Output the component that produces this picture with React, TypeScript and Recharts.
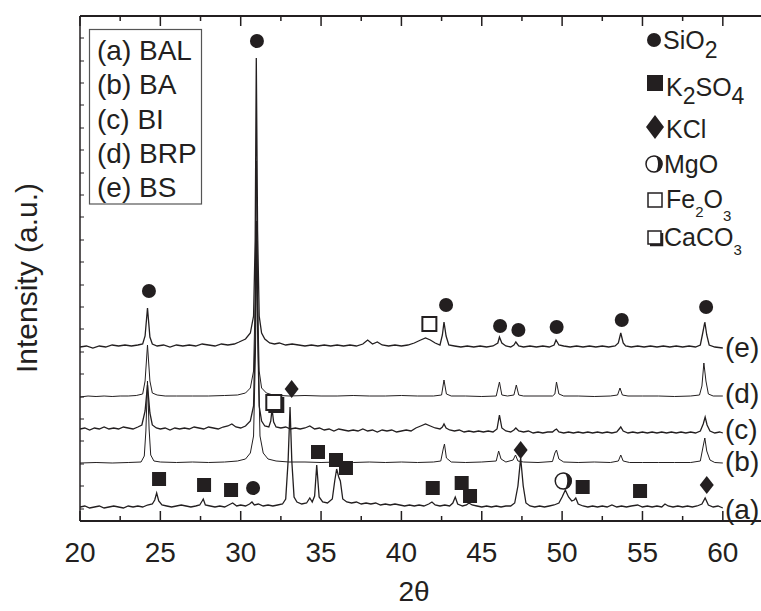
import React from "react";
import { ComposedChart, Line, Scatter, XAxis, YAxis } from "recharts";

// XRD patterns, intensity (arbitrary units, stacked offsets)
type Pt = [number, number];

const traceA: Pt[] = [
  [20, 14], [20.3, 15], [20.6, 13], [20.9, 14], [21.2, 15], [21.5, 13], [21.8, 14], [22.1, 15], [22.4, 14], [22.7, 13],
  [23, 15], [23.3, 14], [23.6, 15], [23.9, 14], [24.2, 16], [24.5, 17], [24.65, 21], [24.77, 28], [24.9, 20], [25.1, 16],
  [25.4, 15], [25.7, 14], [26, 15], [26.3, 16], [26.6, 15], [26.9, 14], [27.2, 15], [27.45, 16], [27.6, 20], [27.67, 22],
  [27.8, 16], [28.1, 15], [28.4, 14], [28.7, 15], [29, 14], [29.25, 16], [29.5, 18], [29.75, 15], [30, 16], [30.3, 15],
  [30.55, 17], [30.7, 19], [30.85, 16], [31.1, 17], [31.4, 15], [31.7, 16], [32, 15], [32.3, 16], [32.6, 17], [32.8, 22],
  [32.95, 60], [33.07, 114], [33.18, 60], [33.32, 24], [33.5, 19], [33.8, 17], [34.1, 18], [34.3, 23], [34.45, 19], [34.6, 25],
  [34.73, 56], [34.88, 24], [35.1, 19], [35.4, 18], [35.7, 22], [35.85, 40], [35.97, 52], [36.1, 44], [36.2, 40], [36.35, 22],
  [36.6, 19], [36.9, 18], [37.2, 19], [37.5, 17], [37.8, 18], [38.1, 17], [38.4, 18], [38.7, 16], [39, 17], [39.3, 16],
  [39.6, 17], [39.9, 16], [40.2, 15], [40.5, 16], [40.8, 15], [41.1, 16], [41.4, 15], [41.7, 17], [41.9, 19], [42.1, 16],
  [42.4, 15], [42.7, 16], [43, 15], [43.2, 18], [43.35, 24], [43.5, 17], [43.8, 15], [44.05, 16], [44.2, 18], [44.4, 16],
  [44.7, 15], [45, 14], [45.3, 15], [45.6, 14], [45.9, 15], [46.2, 14], [46.5, 15], [46.8, 15], [47.05, 18], [47.25, 35],
  [47.42, 63], [47.58, 35], [47.75, 18], [48, 15], [48.3, 14], [48.6, 15], [48.9, 14], [49.2, 15], [49.5, 16], [49.8, 18],
  [50.0, 24], [50.2, 31], [50.4, 24], [50.6, 20], [50.75, 21], [50.85, 23], [51.0, 17], [51.3, 15], [51.6, 14], [51.9, 15],
  [52.2, 14], [52.5, 15], [52.8, 14], [53.1, 16], [53.4, 14], [53.7, 15], [54, 14], [54.3, 15], [54.7, 16], [55, 14],
  [55.3, 15], [55.6, 14], [55.9, 15], [56.2, 14], [56.4, 17], [56.6, 15], [56.9, 14], [57.2, 15], [57.5, 14], [57.8, 15],
  [58.1, 14], [58.4, 15], [58.7, 17], [58.9, 23], [59.1, 16], [59.4, 14], [59.7, 15], [60, 13],
];

const traceB: Pt[] = [
  [20, 58], [21, 58.5], [22, 58], [23, 58.5], [23.8, 59], [24.0, 65], [24.1, 90], [24.2, 140], [24.3, 92], [24.4, 66],
  [24.6, 60], [25, 59], [26, 58.5], [27, 59], [28, 58.5], [29, 59], [29.8, 60], [30.3, 62], [30.6, 68], [30.8, 85],
  [30.92, 170], [31.0, 280], [31.08, 175], [31.2, 85], [31.4, 68], [31.7, 62], [32.2, 60], [33, 59], [34, 59], [35, 58.5],
  [36, 59], [37, 58.5], [38, 59], [39, 58.5], [40, 59], [41, 58.5], [42, 59], [42.45, 60], [42.6, 72], [42.68, 77],
  [42.8, 63], [43.1, 59], [44, 58.5], [45, 59], [45.9, 60], [46.05, 70], [46.2, 62], [46.5, 59], [46.95, 61], [47.1, 66],
  [47.25, 60], [47.6, 59], [48.5, 58.5], [49.4, 59.5], [49.55, 68], [49.65, 71], [49.8, 62], [50.1, 59], [51, 58.5], [52, 59],
  [53, 58.5], [53.5, 60], [53.65, 66], [53.8, 60], [54.2, 58.5], [55, 58.5], [56, 58.5], [57, 58.5], [58, 58.5], [58.6, 60],
  [58.78, 75], [58.88, 83], [59.0, 70], [59.2, 61], [59.5, 58.5], [60, 58],
];

const traceC: Pt[] = [
  [20, 92], [20.3, 93], [20.6, 91], [20.9, 93], [21.2, 92], [21.5, 94], [21.8, 92], [22.1, 93], [22.4, 92], [22.7, 94],
  [23, 93], [23.3, 92], [23.6, 94], [23.85, 96], [24.05, 110], [24.2, 136], [24.35, 108], [24.5, 96], [24.75, 93], [25, 92],
  [25.3, 93], [25.6, 91], [25.9, 93], [26.2, 92], [26.5, 93], [26.8, 92], [27.1, 94], [27.4, 93], [27.7, 92], [28, 94],
  [28.3, 93], [28.6, 92], [28.9, 94], [29.2, 95], [29.45, 97], [29.7, 94], [30, 93], [30.3, 95], [30.6, 100], [30.8, 115],
  [30.9, 190], [30.97, 300], [31.05, 195], [31.15, 115], [31.3, 100], [31.5, 95], [31.75, 94], [31.87, 100], [31.95, 112], [32.05, 99],
  [32.2, 94], [32.5, 93], [32.8, 94], [33.1, 92], [33.4, 93], [33.7, 92], [34, 93], [34.3, 95], [34.6, 92], [34.9, 93],
  [35.2, 91], [35.5, 92], [35.8, 90], [36.1, 92], [36.4, 91], [36.7, 90], [37, 91], [37.3, 90], [37.6, 92], [37.9, 90],
  [38.2, 91], [38.5, 89], [38.8, 91], [39.1, 90], [39.4, 91], [39.7, 89], [40, 90], [40.3, 91], [40.6, 90], [40.9, 93],
  [41.2, 95], [41.5, 97], [41.8, 95], [42.1, 93], [42.4, 92], [42.55, 94], [42.65, 97], [42.78, 93], [43, 91], [43.3, 90],
  [43.6, 91], [43.9, 89], [44.2, 90], [44.5, 89], [44.8, 90], [45.1, 89], [45.4, 90], [45.7, 89], [45.95, 92], [46.1, 106],
  [46.25, 93], [46.5, 90], [46.8, 89], [47.0, 91], [47.12, 93], [47.3, 90], [47.6, 89], [47.9, 90], [48.2, 88], [48.5, 89],
  [48.8, 88], [49.1, 89], [49.4, 89], [49.55, 91], [49.65, 92], [49.8, 89], [50.1, 88], [50.4, 89], [50.7, 88], [51, 89],
  [51.3, 88], [51.6, 89], [51.9, 88], [52.2, 89], [52.5, 88], [52.8, 89], [53.1, 88], [53.4, 89], [53.55, 92], [53.65, 94],
  [53.8, 90], [54.1, 88], [54.4, 89], [54.7, 88], [55, 89], [55.3, 88], [55.6, 89], [55.9, 88], [56.2, 89], [56.5, 88],
  [56.8, 89], [57.1, 88], [57.4, 89], [57.7, 88], [58, 89], [58.3, 88], [58.6, 90], [58.78, 97], [58.9, 104], [59.02, 96],
  [59.2, 90], [59.5, 88], [59.8, 89], [60, 88],
];

const traceD: Pt[] = [
  [20, 124], [20.5, 125], [21, 124.5], [21.5, 125], [22, 124.5], [22.5, 125], [23, 125], [23.5, 125.5], [23.9, 127], [24.05, 140],
  [24.2, 176], [24.35, 140], [24.5, 128], [24.8, 126], [25.3, 125], [26, 125], [27, 125], [28, 125], [29, 125.5], [29.8, 126],
  [30.3, 128], [30.6, 133], [30.8, 150], [30.9, 220], [30.97, 360], [31.05, 225], [31.15, 150], [31.3, 133], [31.6, 128], [32, 126],
  [33, 125], [34, 125.5], [35, 125], [36, 125], [37, 125.5], [38, 125], [39, 125], [40, 125.5], [41, 125], [42, 125],
  [42.5, 126], [42.65, 141], [42.8, 127], [43.1, 125], [44, 125], [45, 124.5], [45.9, 125], [46.1, 139], [46.25, 126], [46.6, 125],
  [47.0, 126], [47.15, 136], [47.3, 126], [47.6, 125], [48.5, 125], [49.4, 125], [49.55, 127], [49.65, 139], [49.8, 127], [50.1, 125],
  [51, 125], [52, 124.5], [53, 125], [53.45, 126], [53.6, 133], [53.75, 126], [54.1, 125], [55, 125], [56, 125], [57, 124.5],
  [58, 125], [58.55, 126], [58.7, 135], [58.82, 158], [58.95, 140], [59.1, 127], [59.4, 125], [60, 125],
];

const traceE: Pt[] = [
  [20, 174], [20.4, 175], [20.8, 173], [21.2, 175], [21.6, 174], [22, 176], [22.4, 175], [22.8, 176], [23.2, 175], [23.6, 176],
  [23.9, 177], [24.05, 185], [24.2, 213], [24.35, 184], [24.5, 177], [24.8, 175], [25.2, 176], [25.6, 174], [26, 176], [26.4, 175],
  [26.8, 176], [27.2, 175], [27.6, 177], [28, 176], [28.4, 175], [28.8, 177], [29.2, 176], [29.6, 177], [29.9, 179], [30.3, 182],
  [30.6, 188], [30.8, 205], [30.9, 280], [30.97, 463], [31.05, 290], [31.15, 205], [31.3, 188], [31.5, 182], [31.8, 178], [32.1, 177],
  [32.4, 178], [32.8, 176], [33.2, 177], [33.6, 176], [34, 175], [34.4, 176], [34.8, 175], [35.2, 176], [35.6, 175], [36, 176],
  [36.4, 175], [36.8, 176], [37.2, 175], [37.6, 177], [37.9, 181], [38.2, 177], [38.5, 179], [38.8, 176], [39.2, 175], [39.6, 176],
  [40, 175], [40.4, 176], [40.8, 178], [41.2, 181], [41.5, 183], [41.8, 181], [42.1, 178], [42.4, 176], [42.55, 186], [42.65, 199],
  [42.78, 185], [42.95, 176], [43.3, 175], [43.7, 174], [44.1, 175], [44.5, 174], [44.9, 175], [45.3, 174], [45.7, 175], [46.0, 178],
  [46.1, 184], [46.25, 178], [46.5, 175], [46.8, 174], [47.0, 176], [47.12, 179], [47.3, 175], [47.6, 174], [48, 175], [48.4, 174],
  [48.8, 175], [49.2, 174], [49.5, 176], [49.62, 181], [49.8, 176], [50.1, 175], [50.5, 174], [50.9, 175], [51.3, 174], [51.7, 175],
  [52.1, 174], [52.5, 175], [52.9, 174], [53.3, 175], [53.5, 178], [53.65, 188], [53.8, 178], [53.95, 175], [54.3, 174], [54.7, 175],
  [55.1, 174], [55.5, 175], [55.9, 174], [56.3, 175], [56.7, 174], [57.1, 175], [57.5, 174], [57.9, 175], [58.3, 174], [58.6, 176],
  [58.75, 188], [58.88, 199], [59.0, 186], [59.15, 176], [59.5, 174], [60, 173],
];

// phase markers (2θ, height)
const sio2Marks: Pt[] = [[31.01, 480], [24.29, 230], [42.78, 216], [46.14, 195], [47.28, 191], [49.66, 194], [53.71, 201], [58.96, 214], [30.77, 33]];
const k2so4Marks: Pt[] = [[24.92, 42], [27.72, 36], [29.4, 31], [34.81, 69], [35.93, 61], [36.55, 53], [41.95, 33], [43.75, 38], [44.27, 25], [51.28, 34], [54.85, 30]];
const kclMarks: Pt[] = [[33.17, 132], [47.42, 71], [59.0, 36]];
const mgoMarks: Pt[] = [[50.07, 40]];
const fe2o3Marks: Pt[] = [[41.74, 197]];
const caco3Marks: Pt[] = [[32.09, 118]];

const xTicks = [20, 22.5, 25, 27.5, 30, 32.5, 35, 37.5, 40, 42.5, 45, 47.5, 50, 52.5, 55, 57.5, 60];
const yTicks = [12, 35, 57, 80, 102, 124, 147, 169, 192, 214, 236, 259, 281, 304, 326, 348, 371, 393, 416, 438, 460, 483];
const sampleNames = ["(a) BAL", "(b) BA", "(c) BI", "(d) BRP", "(e) BS"];
const traceTags = ["(e)", "(d)", "(c)", "(b)", "(a)"];

const INK = "#231f20";
const FONT = "'Liberation Sans', Arial, Helvetica, sans-serif";

const rows = (pts: Pt[]) => pts.map(([t, v]) => ({ t, v }));

const BottomTick = (p: any) => {
  const major = p.payload.value % 5 === 0;
  return (
    <g>
      <line x1={p.x} x2={p.x} y1={p.y} y2={p.y - (major ? 10 : 5)} stroke={INK} strokeWidth={1.5} />
      {major && (
        <text x={p.x} y={p.y + 41} textAnchor="middle" fontSize={28} fontFamily={FONT} fill={INK}>
          {p.payload.value}
        </text>
      )}
    </g>
  );
};

const TopTick = (p: any) => {
  const major = p.payload.value % 5 === 0;
  return <line x1={p.x} x2={p.x} y1={p.y} y2={p.y + (major ? 10 : 5)} stroke={INK} strokeWidth={1.5} />;
};

const LeftTick = (p: any) => <line x1={p.x} x2={p.x + 4} y1={p.y} y2={p.y} stroke={INK} strokeWidth={1} />;

const DotMark = (p: any) => <circle cx={p.cx} cy={p.cy} r={7} fill={INK} />;
const SquareMark = (p: any) => <rect x={p.cx - 7} y={p.cy - 7} width={14} height={14} fill={INK} />;
const DiamondMark = (p: any) => (
  <polygon points={`${p.cx},${p.cy - 9} ${p.cx + 7},${p.cy} ${p.cx},${p.cy + 9} ${p.cx - 7},${p.cy}`} fill={INK} />
);
const MgoMark = (p: any) => (
  <g>
    <circle cx={p.cx} cy={p.cy} r={8} fill="white" stroke={INK} strokeWidth={1.5} />
    <path d={`M ${p.cx} ${p.cy - 8.5} A 8.5 8.5 0 0 1 ${p.cx} ${p.cy + 8.5} A 4 8.5 0 0 0 ${p.cx} ${p.cy - 8.5} Z`} fill={INK} />
  </g>
);
const OpenSquareMark = (p: any) => (
  <rect x={p.cx - 7} y={p.cy - 7} width={14} height={14} fill="white" stroke={INK} strokeWidth={2} />
);
const ShadowSquareMark = (p: any) => (
  <g>
    <rect x={p.cx - 8} y={p.cy - 8} width={15} height={15} fill="white" stroke={INK} strokeWidth={2} />
    <path d={`M ${p.cx + 8.5} ${p.cy - 6} V ${p.cy + 8.5} H ${p.cx - 6}`} fill="none" stroke={INK} strokeWidth={3} />
  </g>
);

const traces = [traceA, traceB, traceC, traceD, traceE];
const marks: [Pt[], (p: any) => React.ReactElement][] = [
  [sio2Marks, DotMark],
  [k2so4Marks, SquareMark],
  [kclMarks, DiamondMark],
  [mgoMarks, MgoMark],
  [fe2o3Marks, OpenSquareMark],
  [caco3Marks, ShadowSquareMark],
];

export default function App() {
  return (
    <div style={{ position: "absolute", left: 0, top: 0, width: 761, height: 611, overflow: "hidden", background: "white" }}>
      <ComposedChart width={780} height={611} margin={{ top: 6, right: 17, left: 20, bottom: 30 }}>
        <XAxis
          xAxisId="b"
          dataKey="t"
          type="number"
          domain={[20, 62.5]}
          allowDataOverflow
          ticks={xTicks}
          interval={0}
          height={60}
          tickSize={0}
          tickMargin={0}
          tick={<BottomTick />}
          tickLine={false}
          axisLine={{ stroke: INK, strokeWidth: 2 }}
        />
        <XAxis
          xAxisId="t"
          orientation="top"
          dataKey="t"
          type="number"
          domain={[20, 62.5]}
          allowDataOverflow
          ticks={xTicks}
          interval={0}
          height={10}
          tickSize={0}
          tickMargin={0}
          tick={<TopTick />}
          tickLine={false}
          axisLine={{ stroke: INK, strokeWidth: 2 }}
        />
        <YAxis
          yAxisId="l"
          dataKey="v"
          type="number"
          domain={[0, 505]}
          allowDataOverflow
          ticks={yTicks}
          interval={0}
          width={60}
          tickSize={0}
          tickMargin={0}
          tick={<LeftTick />}
          tickLine={false}
          axisLine={{ stroke: INK, strokeWidth: 1.5 }}
        />
        {traces.map((tr, i) => (
          <Line
            key={`tr-${i}`}
            xAxisId="b"
            yAxisId="l"
            data={rows(tr)}
            dataKey="v"
            type="linear"
            stroke={INK}
            strokeWidth={i % 2 === 1 ? 1 : 1.3}
            dot={false}
            isAnimationActive={false}
          />
        ))}
        {marks.map(([pts, shape], i) => (
          <Scatter
            key={`mk-${i}`}
            xAxisId="b"
            yAxisId="l"
            data={rows(pts)}
            dataKey="v"
            shape={shape}
            isAnimationActive={false}
          />
        ))}
      </ComposedChart>

      <svg
        width={761}
        height={611}
        style={{ position: "absolute", left: 0, top: 0, pointerEvents: "none" }}
        fontFamily={FONT}
        fill={INK}
      >
        <rect x={89.5} y={29.5} width={112} height={174.5} fill="white" stroke="#555" strokeWidth={1.2} />
        {sampleNames.map((s, i) => (
          <text key={s} x={97} y={60 + i * 34.3} fontSize={28}>{s}</text>
        ))}

        {traceTags.map((s, i) => (
          <text key={s} x={725} y={[357, 403, 439, 471, 519][i]} fontSize={28}>{s}</text>
        ))}

        <circle cx={654} cy={40} r={7} />
        <text x={663} y={49} fontSize={25}>SiO<tspan fontSize={23} dy={9}>2</tspan></text>
        <rect x={647} y={75} width={16} height={16} />
        <text x={666} y={96} fontSize={25}>K<tspan fontSize={23} dy={8}>2</tspan><tspan dy={-8}>SO</tspan><tspan fontSize={23} dy={8}>4</tspan></text>
        <polygon points="655,115 664,127 655,139 646,127" />
        <text x={666} y={138} fontSize={25}>KCl</text>
        <circle cx={654} cy={164} r={8} fill="white" stroke={INK} strokeWidth={1.5} />
        <path d="M 654 155.5 A 8.5 8.5 0 0 1 654 172.5 A 4 8.5 0 0 0 654 155.5 Z" />
        <text x={664} y={173} fontSize={25}>MgO</text>
        <rect x={648} y={193} width={14} height={14} fill="white" stroke={INK} strokeWidth={1.5} />
        <text x={666} y={208} fontSize={25}>Fe<tspan fontSize={15} dy={9}>2</tspan><tspan dy={-9}>O</tspan><tspan fontSize={15} dy={13}>3</tspan></text>
        <rect x={648} y={231} width={13} height={13} fill="white" stroke={INK} strokeWidth={1.5} />
        <path d="M 662 233 V 245 H 650" fill="none" stroke={INK} strokeWidth={2.5} />
        <text x={664} y={246} fontSize={25}>CaCO<tspan fontSize={15} dy={9}>3</tspan></text>

        <text x={414} y={601} fontSize={28} textAnchor="middle">2θ</text>
        <text x={0} y={0} fontSize={30} textAnchor="middle" transform="translate(37 278) rotate(-90)">Intensity (a.u.)</text>
      </svg>
    </div>
  );
}
